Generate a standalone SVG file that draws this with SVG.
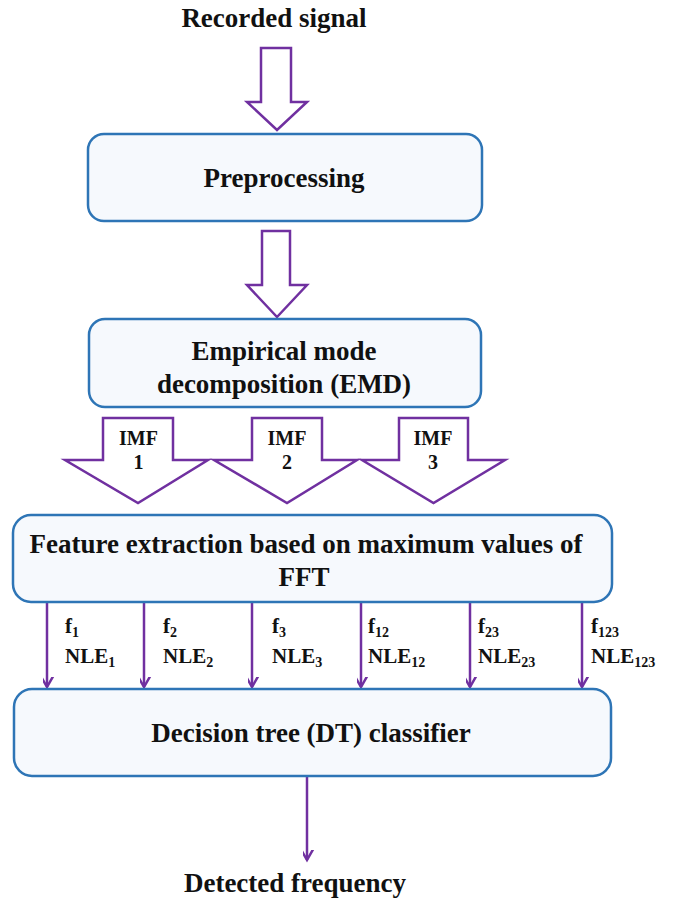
<svg xmlns="http://www.w3.org/2000/svg" width="675" height="898" viewBox="0 0 675 898">
<style>
text{font-family:'Liberation Serif','DejaVu Serif',serif;font-weight:bold;fill:#111;}
.big{font-size:27px;}
.sm{font-size:20px;}
.lb{font-size:21px;}
.sub{font-size:14px;}
.box{fill:#f6f9fd;stroke:#2e75b6;stroke-width:2.5;}
.hol{fill:#fff;stroke:#7030a0;stroke-width:2.5;stroke-linejoin:miter;}
.ln{fill:none;stroke:#7030a0;stroke-width:2.5;}
</style>
<defs>
<marker id="ah" markerUnits="userSpaceOnUse" markerWidth="20" markerHeight="20" viewBox="-10 -16 20 20" refX="0" refY="0" orient="auto-start-reverse">
<path d="M-8,-14 L0,0 L8,-14" fill="none" stroke="#7030a0" stroke-width="2.5" transform="rotate(-90)"/>
</marker>
</defs>

<text id="title" class="big" x="274" y="27" text-anchor="middle">Recorded signal</text>

<g id="connectors">
<path class="hol" d="M261,48 H291 V102 H307 L277,130 L247,102 H261 Z"/>
<path class="hol" d="M262,231 H290 V285 H307 L277,317 L247,285 H262 Z"/>
<g id="imf1"><path class="hol" d="M103,418 H173 V460 H208 L138,503 L65,460 H103 Z"/>
<text class="sm" x="138.5" y="445" text-anchor="middle">IMF</text><text class="sm" x="138.5" y="469" text-anchor="middle">1</text></g>
<g id="imf2"><path class="hol" d="M252,418 H322 V460 H357 L287,503 L214,460 H252 Z"/>
<text class="sm" x="287" y="445" text-anchor="middle">IMF</text><text class="sm" x="287" y="469" text-anchor="middle">2</text></g>
<g id="imf3"><path class="hol" d="M399,418 H468 V460 H505 L433.5,503 L362,460 H399 Z"/>
<text class="sm" x="433" y="445" text-anchor="middle">IMF</text><text class="sm" x="433" y="469" text-anchor="middle">3</text></g>
<line class="ln" x1="47" y1="602" x2="47" y2="687" marker-end="url(#ah)"/>
<line class="ln" x1="144" y1="602" x2="144" y2="687" marker-end="url(#ah)"/>
<line class="ln" x1="252" y1="602" x2="252" y2="687" marker-end="url(#ah)"/>
<line class="ln" x1="361" y1="602" x2="361" y2="687" marker-end="url(#ah)"/>
<line class="ln" x1="470" y1="602" x2="470" y2="687" marker-end="url(#ah)"/>
<line class="ln" x1="582" y1="602" x2="582" y2="687" marker-end="url(#ah)"/>
<line class="ln" x1="307" y1="776" x2="307" y2="860" marker-end="url(#ah)"/>
<g id="labels">
<text class="lb" x="65" y="633">f<tspan class="sub" dy="4">1</tspan></text>
<text class="lb" x="65" y="663">NLE<tspan class="sub" dy="4">1</tspan></text>
<text class="lb" x="163" y="633">f<tspan class="sub" dy="4">2</tspan></text>
<text class="lb" x="163" y="663">NLE<tspan class="sub" dy="4">2</tspan></text>
<text class="lb" x="272" y="633">f<tspan class="sub" dy="4">3</tspan></text>
<text class="lb" x="272" y="663">NLE<tspan class="sub" dy="4">3</tspan></text>
<text class="lb" x="368" y="633">f<tspan class="sub" dy="4">12</tspan></text>
<text class="lb" x="368" y="663">NLE<tspan class="sub" dy="4">12</tspan></text>
<text class="lb" x="478" y="633">f<tspan class="sub" dy="4">23</tspan></text>
<text class="lb" x="478" y="663">NLE<tspan class="sub" dy="4">23</tspan></text>
<text class="lb" x="591" y="633">f<tspan class="sub" dy="4">123</tspan></text>
<text class="lb" x="591" y="663">NLE<tspan class="sub" dy="4">123</tspan></text>
</g>
</g>

<g id="preprocessing">
<rect class="box" x="88" y="134" width="394" height="87" rx="16"/>
<text class="big" x="284" y="187" text-anchor="middle">Preprocessing</text>
</g>
<g id="emd">
<rect class="box" x="89" y="319" width="392" height="88" rx="16"/>
<text class="big" x="284" y="360" text-anchor="middle">Empirical mode</text>
<text class="big" x="284" y="393" text-anchor="middle">decomposition (EMD)</text>
</g>
<g id="feature">
<rect class="box" x="13" y="515" width="599" height="87" rx="18"/>
<text class="big" x="306" y="553" text-anchor="middle">Feature extraction based on maximum values of</text>
<text class="big" x="304" y="586" text-anchor="middle">FFT</text>
</g>
<g id="dt">
<rect class="box" x="14" y="689" width="597" height="87" rx="18"/>
<text class="big" x="311" y="742" text-anchor="middle">Decision tree (DT) classifier</text>
</g>
<text id="output" class="big" x="295" y="892" text-anchor="middle">Detected frequency</text>
</svg>
